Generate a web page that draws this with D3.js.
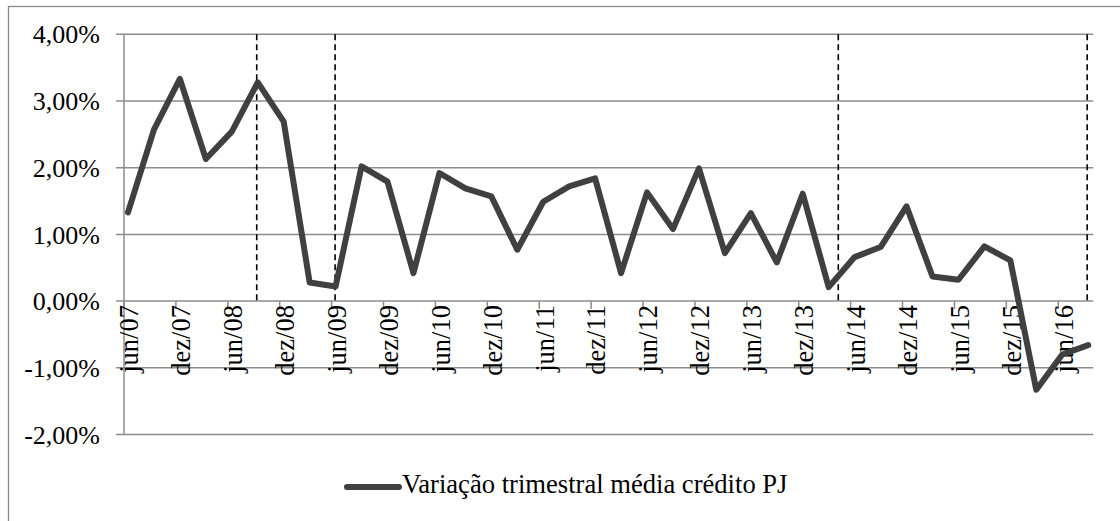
<!DOCTYPE html>
<html>
<head>
<meta charset="utf-8">
<script src="https://cdn.jsdelivr.net/npm/d3@7"></script>
<style>
  body { margin: 0; background: #fff; }
</style>
</head>
<body>
<div id="container"></div>
<script>
// quarterly data, jun/07 .. set/16
var quarters = ['jun/07','set/07','dez/07','mar/08','jun/08','set/08','dez/08','mar/09',
    'jun/09','set/09','dez/09','mar/10','jun/10','set/10','dez/10','mar/11',
    'jun/11','set/11','dez/11','mar/12','jun/12','set/12','dez/12','mar/13',
    'jun/13','set/13','dez/13','mar/14','jun/14','set/14','dez/14','mar/15',
    'jun/15','set/15','dez/15','mar/16','jun/16','set/16'];
var credito = [1.33, 2.57, 3.33, 2.13, 2.54, 3.28, 2.69, 0.28,
    0.22, 2.02, 1.79, 0.42, 1.92, 1.69, 1.57, 0.77,
    1.49, 1.72, 1.84, 0.42, 1.63, 1.08, 1.99, 0.72,
    1.32, 0.58, 1.61, 0.21, 0.66, 0.81, 1.42, 0.37,
    0.32, 0.82, 0.61, -1.33, -0.80, -0.66];
var yTicks = [-2, -1, 0, 1, 2, 3, 4];
// dashed markers (position in quarter index)
var marcos = [4.96, 7.98, 27.37, 36.96];
var seriesName = 'Variação trimestral média crédito PJ';

var width = 1120,
    height = 521,
    font = "'Liberation Serif'";

var svg = d3.select('div#container')
    .append('svg')
    .attr('width', width)
    .attr('height', height);

// chart area border (runs off the right/bottom of the picture)
svg.append('rect')
    .attr('x', 8.5).attr('y', 6.5)
    .attr('width', 1200).attr('height', 600)
    .attr('fill', 'none')
    .attr('stroke', '#8a8a8a')
    .attr('stroke-width', 1.3);

var x = d3.scaleLinear().domain([0, quarters.length - 1]).range([128, 1088.2]);
var y = d3.scaleLinear().domain([-2, 4]).range([434.5, 34.3]);
var left = x(-0.154), right = x(37.19);

// excel style: 1,00% with a plain hyphen for negatives
var fmt = function(d) { return d.toFixed(2).replace('.', ',') + '%'; };

// gridlines
svg.append('g').selectAll('line')
    .data(yTicks)
    .enter().append('line')
    .attr('x1', left - 8).attr('x2', right)
    .attr('y1', function(d) { return y(d); })
    .attr('y2', function(d) { return y(d); })
    .attr('stroke', '#8c8c8c')
    .attr('stroke-width', 1.5);

// y axis line
svg.append('line')
    .attr('x1', left).attr('x2', left)
    .attr('y1', y(4)).attr('y2', y(-2))
    .attr('stroke', '#8c8c8c')
    .attr('stroke-width', 1.5);

svg.append('g').selectAll('text')
    .data(yTicks)
    .enter().append('text')
    .attr('x', 100)
    .attr('y', function(d) { return y(d); })
    .attr('dy', '0.35em')
    .attr('text-anchor', 'end')
    .style('font-family', font)
    .style('font-size', '26px')
    .text(fmt);

// x axis ticks (every two quarters, a bit left of the point)
var evens = d3.range(0, quarters.length, 2);
svg.append('g').selectAll('line')
    .data(evens)
    .enter().append('line')
    .attr('x1', function(d) { return x(d) - 4; })
    .attr('x2', function(d) { return x(d) - 4; })
    .attr('y1', y(0)).attr('y2', y(0) + 8)
    .attr('stroke', '#8c8c8c')
    .attr('stroke-width', 1.5);

svg.append('g').selectAll('text')
    .data(evens)
    .enter().append('text')
    .attr('transform', function(d) {
        return 'translate(' + (x(d) + 1) + ',' + (y(0) + 4) + ') rotate(-90)';
    })
    .attr('dy', '0.35em')
    .attr('text-anchor', 'end')
    .style('font-family', font)
    .style('font-size', '26.5px')
    .text(function(d) { return quarters[d]; });

// dashed vertical markers
svg.append('g').selectAll('line')
    .data(marcos)
    .enter().append('line')
    .attr('x1', function(d) { return x(d); })
    .attr('x2', function(d) { return x(d); })
    .attr('y1', y(4)).attr('y2', y(0))
    .attr('stroke', '#000')
    .attr('stroke-width', 1.6)
    .attr('stroke-dasharray', '6,4');

// series line
var line = d3.line()
    .x(function(d, i) { return x(i); })
    .y(function(d) { return y(d); });

svg.append('path')
    .datum(credito)
    .attr('d', line)
    .attr('fill', 'none')
    .attr('stroke', '#404040')
    .attr('stroke-width', 6)
    .attr('stroke-linejoin', 'round')
    .attr('stroke-linecap', 'round');

// legend
var leg = svg.append('g').attr('transform', 'translate(347,487)');
leg.append('line')
    .attr('x1', 0).attr('x2', 52)
    .attr('stroke', '#404040')
    .attr('stroke-width', 6)
    .attr('stroke-linecap', 'round');
leg.append('text')
    .attr('x', 55)
    .attr('y', 6)
    .style('font-family', font)
    .style('font-size', '26.6px')
    .text(seriesName);
</script>
</body>
</html>
